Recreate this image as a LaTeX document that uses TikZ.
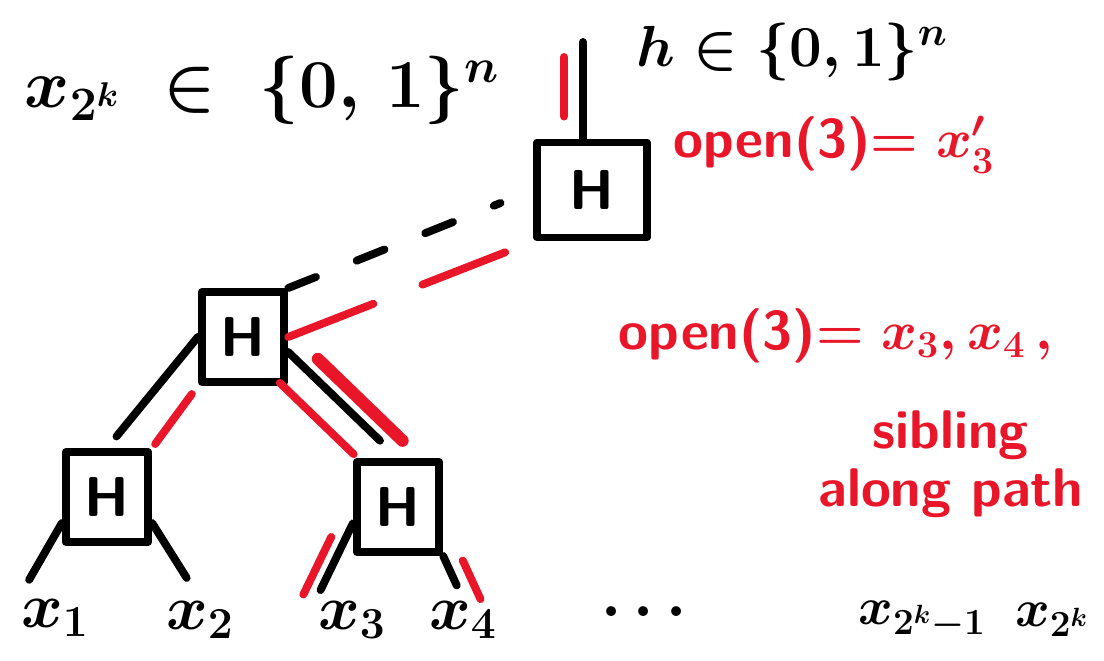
\RequirePackage{fix-cm}
\documentclass[tikz,border=0pt]{standalone}
\usepackage{amssymb}
\usepackage{amsmath}
\usetikzlibrary{positioning}
\definecolor{penred}{RGB}{232,22,40}

\begin{document}
\begin{tikzpicture}[x=0.02cm, y=-0.02cm, line cap=round, line join=round,
  hbox/.style={rectangle, draw, line width=4.5pt, minimum width=1.65cm, minimum height=1.8cm, font=\fontsize{32}{34}\selectfont\sffamily\bfseries},
  wire/.style={line width=4.5pt},
  hilite/.style={line width=4.5pt, penred},
  leaf/.style={inner sep=1pt, font=\fontsize{36}{40}\selectfont\boldmath},
  note/.style={text=penred, align=center, font=\fontsize{31}{33}\selectfont\sffamily\bfseries\boldmath}]

  \useasboundingbox (0,0) rectangle (1104,661);

  % Sets
  \node[leaf, font=\fontsize{39}{42}\selectfont\boldmath] (setx) at (262,90) {$x_{2^k}\;\in\;\{0,\,1\}^n$};
  \node[leaf, font=\fontsize{33}{36}\selectfont\boldmath] (seth) at (792,52) {$h\in\{0,1\}^n$};

  % Hash nodes
  \node[hbox, minimum width=2.2cm, minimum height=1.9cm] (root) at (592,190) {H};
  \node[hbox] (mid) at (243,337) {H};
  \node[hbox] (left) at (107,497) {H};
  \node[hbox] (right) at (398,507) {H};
  \coordinate (out) at (583,42);

  % Leaves
  \node[leaf] (x1) at (55,618) {$x_1$};
  \node[leaf] (x2) at (200,620) {$x_2$};
  \node[leaf] (x3) at (352,620) {$x_3$};
  \node[leaf] (x4) at (463,620) {$x_4$};
  \node[leaf] (dots) at (650,612) {$\dots$};
  \node[leaf, font=\fontsize{30}{32}\selectfont\boldmath] (xlast1) at (922,620) {$x_{2^k-1}$};
  \node[leaf, font=\fontsize{30}{32}\selectfont\boldmath] (xlast) at (1052,620) {$x_{2^k}$};

  % Notes
  \node[note] (noteroot) at (834,145) {open(3)$=x_3'$};
  \node[note] (notepath) at (836,336) {open(3)$=x_3,x_4\,,$};
  \node[note, below=0.7cm of notepath.south east, anchor=north east, xshift=0.6cm] (notesib) {sibling\\along path};

  % Tree edges
  \draw[wire] (root.north -| out) -- (out);
  \draw[wire, dash pattern=on 17pt off 25pt, shorten >=0.7cm] (mid.north east) -- (root.west);
  \draw[wire] (mid.west) -- (left.north) [shorten >=0.3cm];
  \draw[wire, shorten >=0.5cm] ([yshift=-0.3cm]mid.east) -- (right.north);
  \draw[wire, shorten >=0.4cm] (left.210) -- (x1.north west);
  \draw[wire, shorten >=0.5cm] (left.-30) -- (x2.north);
  \draw[wire, shorten >=0.2cm] (right.200) -- (x3.north west);
  \draw[wire, shorten >=0.3cm] (right.south east) -- (x4.north);

  % Opened path
  \draw[hilite, shorten <=0.44cm, shorten >=0.3cm, transform canvas={xshift=-0.38cm}] (root.north -| out) -- (out);
  \draw[hilite, dash pattern=on 52pt off 30pt, shorten >=0.6cm] (mid.east) -- (root.south west);
  \draw[hilite, shorten <=0.2cm, shorten >=0.1cm] (mid.south west) -- (left.north east);
  \draw[hilite, line width=7pt, shorten <=0.2cm, shorten >=0.5cm, transform canvas={xshift=0.45cm}] ([yshift=-0.3cm]mid.east) -- (right.north);
  \draw[hilite, shorten <=0.6cm, shorten >=0.4cm, transform canvas={xshift=-0.6cm, yshift=-0.2cm}] ([yshift=-0.3cm]mid.east) -- (right.north);
  \draw[hilite, shorten <=0.3cm, shorten >=0.1cm, transform canvas={xshift=-0.3cm}] (right.200) -- (x3.north west);
  \draw[hilite, shorten <=0.1cm, transform canvas={xshift=0.35cm}] (right.south east) -- (x4.north);

\end{tikzpicture}
\end{document}
